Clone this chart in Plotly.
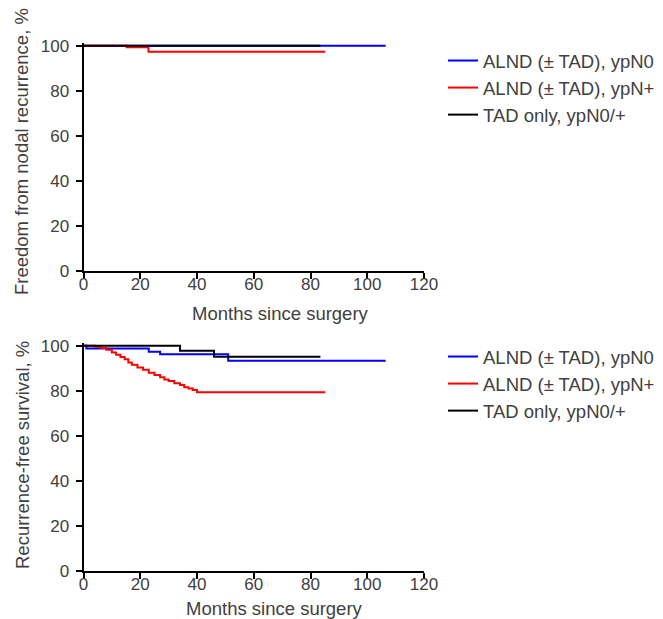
import plotly.graph_objects as go

# ---- data (months, survival %) ----
series_names = ["ALND (± TAD), ypN0", "ALND (± TAD), ypN+", "TAD only, ypN0/+"]
series_colors = ["#0000ff", "#ff0000", "#000000"]

# top panel: freedom from nodal recurrence
top_n0_t = [0, 106.5]
top_n0_s = [100, 100]
top_np_t = [0, 15.2, 22.9, 85.2]
top_np_s = [100, 99.3, 97.3, 97.3]
top_tad_t = [0, 83.5]
top_tad_s = [100, 100]

# bottom panel: recurrence-free survival
bot_n0_t = [0, 1, 23, 27, 51, 106.5]
bot_n0_s = [100, 98.8, 97.3, 96.2, 93.3, 93.3]
bot_np_t = [0, 4, 6, 8, 10, 11.5, 13, 14.5, 15.8, 17, 19, 21, 23, 25, 27, 28.5,
            30, 32, 34, 35.5, 37, 38.5, 40, 85.2]
bot_np_s = [100, 99.5, 99, 98.2, 97, 96, 95, 94, 92.5, 91.5, 90.3, 89.3, 88, 87,
            86, 85, 84.3, 83.3, 82.5, 81.5, 81, 80.3, 79.3, 79.3]
bot_tad_t = [0, 34, 46, 83.5]
bot_tad_s = [100, 97.8, 95.1, 95.1]

x_ticks = [0, 20, 40, 60, 80, 100, 120]
y_ticks = [0, 20, 40, 60, 80, 100]
x_title = "Months since surgery"
y_titles = ["Freedom from nodal recurrence, %", "Recurrence-free survival, %"]

W, H = 663, 619
FONT = "Arial, Liberation Sans, sans-serif"
TXT = "#404040"

def py(p):
    return 1 - p / H

def px(p):
    return p / W

fig = go.Figure()

top_data = [(top_n0_t, top_n0_s), (top_np_t, top_np_s), (top_tad_t, top_tad_s)]
bot_data = [(bot_n0_t, bot_n0_s), (bot_np_t, bot_np_s), (bot_tad_t, bot_tad_s)]

for i, (t, s) in enumerate(top_data):
    fig.add_trace(go.Scatter(x=t, y=s, mode="lines", line_shape="hv",
                             line=dict(color=series_colors[i], width=2),
                             name=series_names[i], xaxis="x", yaxis="y",
                             legend="legend"))
for i, (t, s) in enumerate(bot_data):
    fig.add_trace(go.Scatter(x=t, y=s, mode="lines", line_shape="hv",
                             line=dict(color=series_colors[i], width=2),
                             name=series_names[i], xaxis="x2", yaxis="y2",
                             legend="legend2"))

xdom = [px(83.5), px(424)]
ymax = 101
unit = 225 / 100.0
top_dom = [py(270.7), py(270.7 - unit * ymax)]
bot_dom = [py(570.7), py(570.7 - unit * ymax)]

axis_common = dict(showline=True, linecolor="black", linewidth=2,
                   ticks="outside", ticklen=6, tickwidth=1.5, tickcolor="black",
                   showgrid=False, zeroline=False,
                   tickfont=dict(family=FONT, size=17, color=TXT))

xax = dict(range=[0, 120], tickvals=x_ticks, ticklabelstandoff=-9, domain=xdom, **axis_common)
yax = dict(range=[0, ymax], tickvals=y_ticks, ticklabelstandoff=3, **axis_common)

fig.update_layout(
    width=W, height=H, template="none",
    paper_bgcolor="white", plot_bgcolor="white",
    margin=dict(l=0, r=0, t=0, b=0),
    xaxis=dict(anchor="y", **xax),
    yaxis=dict(domain=top_dom, anchor="x", **yax),
    xaxis2=dict(anchor="y2", **xax),
    yaxis2=dict(domain=bot_dom, anchor="x2", **yax),
    legend=dict(x=px(443), y=py(42), xanchor="left", yanchor="top",
                font=dict(family=FONT, size=18.5, color=TXT), bgcolor="rgba(0,0,0,0)",
                tracegroupgap=0),
    legend2=dict(x=px(443), y=py(338), xanchor="left", yanchor="top",
                 font=dict(family=FONT, size=18.5, color=TXT), bgcolor="rgba(0,0,0,0)",
                 tracegroupgap=0),
    showlegend=True,
)

annots = [
    dict(text=x_title, x=px(280), y=py(313), xref="paper", yref="paper",
         showarrow=False, xanchor="center", yanchor="middle"),
    dict(text=x_title, x=px(274), y=py(608), xref="paper", yref="paper",
         showarrow=False, xanchor="center", yanchor="middle"),
    dict(text=y_titles[0], x=px(22), y=py(152), xref="paper", yref="paper",
         showarrow=False, textangle=-90, xanchor="center", yanchor="middle"),
    dict(text=y_titles[1], x=px(22), y=py(455), xref="paper", yref="paper",
         showarrow=False, textangle=-90, xanchor="center", yanchor="middle"),
]
for a in annots:
    a["font"] = dict(family=FONT, size=18.5, color=TXT)
fig.update_layout(annotations=annots)

fig.write_html("out.html")
